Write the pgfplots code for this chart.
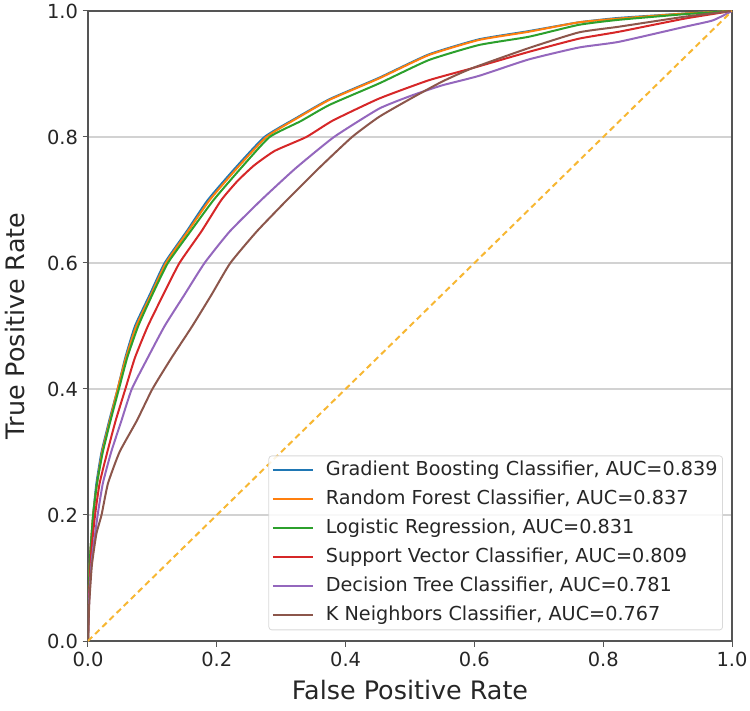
\documentclass[border=0pt]{standalone}
\usepackage{fontspec}
\setmainfont{DejaVu Sans}
\usepackage{pgfplots}
\pgfplotsset{compat=1.18}
\definecolor{tblue}{HTML}{1F77B4}
\definecolor{torange}{HTML}{FF7F0E}
\definecolor{tgreen}{HTML}{2CA02C}
\definecolor{tred}{HTML}{D62728}
\definecolor{tpurple}{HTML}{9467BD}
\definecolor{tbrown}{HTML}{8C564B}
\definecolor{gold}{HTML}{F7B733}
\definecolor{framegray}{HTML}{555555}
\begin{document}
\begin{tikzpicture}
\useasboundingbox (-88bp,-70bp) rectangle (662bp,641bp);
\begin{axis}[
  at={(0,0)}, anchor=south west,
  scale only axis, width=644bp, height=630bp,
  xmin=0, xmax=1, ymin=0, ymax=1,
  xtick={0,0.2,0.4,0.6,0.8,1.0},
  ytick={0,0.2,0.4,0.6,0.8,1.0},
  xtick pos=bottom, ytick pos=left,
  tick align=outside,
  major tick length=5.5bp,
  every tick/.style={framegray, line width=1bp},
  axis line style={framegray, line width=1.3bp},
  ymajorgrids,
  major grid style={gray!35, line width=1.2bp},
  /pgf/number format/assume math mode=true,
  /pgf/number format/fixed,
  /pgf/number format/fixed zerofill,
  /pgf/number format/precision=1,
  tick label style={font=\fontsize{19.5}{22}\selectfont, text=black!85},
  xticklabel style={yshift=-2bp},
  yticklabel style={xshift=-1bp},
  xlabel={False Positive Rate},
  ylabel={True Positive Rate},
  label style={font=\fontsize{25.5}{30}\selectfont, text=black!85},
  xlabel style={at={(axis description cs:0.5,-0.078)}, anchor=center},
  ylabel style={at={(axis description cs:-0.113,0.5)}, anchor=center},
  legend cell align=left,
  legend style={
    at={(0.986,0.017)}, anchor=south east,
    font=\fontsize{19.3}{22}\selectfont, text=black!85,
    draw=gray!30, rounded corners=3bp, line width=0.8bp,
    fill=white, fill opacity=0.85, text opacity=1,
    inner xsep=3bp, inner ysep=3bp,
    row sep=6bp,
    nodes={inner sep=2bp, text height=14.5bp, text depth=4.5bp},
    /tikz/every odd column/.append style={column sep=10bp},
  },
  legend image code/.code={\draw[#1] (0bp,0bp) -- (40bp,0bp);},
  every axis plot/.append style={line width=2bp, line join=round, smooth, tension=0.3},
]
\addplot[tblue] coordinates {
(0,0) (0.001,0.07) (0.003,0.13) (0.008,0.20) (0.013,0.25) (0.021,0.30) (0.033,0.35) (0.046,0.40) (0.058,0.45) (0.073,0.50) (0.096,0.55) (0.119,0.60) (0.153,0.65) (0.186,0.70) (0.228,0.75) (0.274,0.80) (0.323,0.83) (0.375,0.86) (0.452,0.894) (0.529,0.931) (0.607,0.955) (0.684,0.968) (0.762,0.982) (0.824,0.989) (0.927,0.996) (1,1)};
\addlegendentry{Gradient Boosting Classifier, AUC=0.839}
\addplot[torange] coordinates {
(0,0) (0.001,0.07) (0.003,0.13) (0.008,0.20) (0.014,0.25) (0.022,0.30) (0.034,0.35) (0.046,0.40) (0.059,0.45) (0.075,0.50) (0.098,0.55) (0.121,0.60) (0.155,0.65) (0.189,0.70) (0.231,0.75) (0.277,0.80) (0.325,0.83) (0.375,0.859) (0.452,0.893) (0.529,0.930) (0.607,0.954) (0.684,0.967) (0.762,0.982) (0.824,0.988) (0.927,0.996) (1,1)};
\addlegendentry{Random Forest Classifier, AUC=0.837}
\addplot[tgreen] coordinates {
(0,0) (0.001,0.07) (0.003,0.13) (0.008,0.20) (0.014,0.25) (0.023,0.30) (0.035,0.35) (0.048,0.40) (0.061,0.45) (0.078,0.50) (0.100,0.55) (0.124,0.60) (0.159,0.65) (0.195,0.70) (0.237,0.75) (0.282,0.80) (0.330,0.825) (0.375,0.851) (0.452,0.885) (0.529,0.922) (0.607,0.946) (0.684,0.959) (0.762,0.978) (0.824,0.986) (0.927,0.995) (1,1)};
\addlegendentry{Logistic Regression, AUC=0.831}
\addplot[tred] coordinates {
(0,0) (0.002,0.08) (0.005,0.14) (0.011,0.20) (0.018,0.25) (0.030,0.30) (0.043,0.35) (0.058,0.40) (0.073,0.45) (0.093,0.50) (0.117,0.55) (0.142,0.60) (0.176,0.65) (0.207,0.70) (0.232,0.73) (0.258,0.755) (0.290,0.778) (0.339,0.80) (0.380,0.826) (0.452,0.861) (0.529,0.89) (0.596,0.909) (0.684,0.935) (0.762,0.956) (0.824,0.967) (0.927,0.988) (1,1)};
\addlegendentry{Support Vector Classifier, AUC=0.809}
\addplot[tpurple] coordinates {
(0,0) (0.002,0.07) (0.006,0.13) (0.015,0.20) (0.023,0.25) (0.036,0.30) (0.052,0.35) (0.068,0.40) (0.093,0.45) (0.119,0.50) (0.150,0.55) (0.181,0.60) (0.220,0.65) (0.269,0.70) (0.322,0.75) (0.382,0.80) (0.452,0.845) (0.503,0.866) (0.550,0.882) (0.607,0.897) (0.684,0.923) (0.762,0.942) (0.824,0.951) (0.927,0.975) (0.970,0.985) (1,1)};
\addlegendentry{Decision Tree Classifier, AUC=0.781}
\addplot[tbrown] coordinates {
(0,0) (0.002,0.06) (0.006,0.12) (0.013,0.17) (0.021,0.20) (0.031,0.25) (0.049,0.30) (0.076,0.35) (0.100,0.40) (0.130,0.45) (0.162,0.50) (0.192,0.55) (0.221,0.60) (0.262,0.65) (0.309,0.70) (0.358,0.75) (0.410,0.80) (0.452,0.832) (0.503,0.862) (0.550,0.888) (0.596,0.909) (0.684,0.941) (0.762,0.966) (0.824,0.975) (0.927,0.991) (1,1)};
\addlegendentry{K Neighbors Classifier, AUC=0.767}
\addplot[gold, line width=2bp, sharp plot, dash pattern=on 6bp off 4bp, forget plot] coordinates {(0,0) (1,1)};
\end{axis}
\end{tikzpicture}
\end{document}
